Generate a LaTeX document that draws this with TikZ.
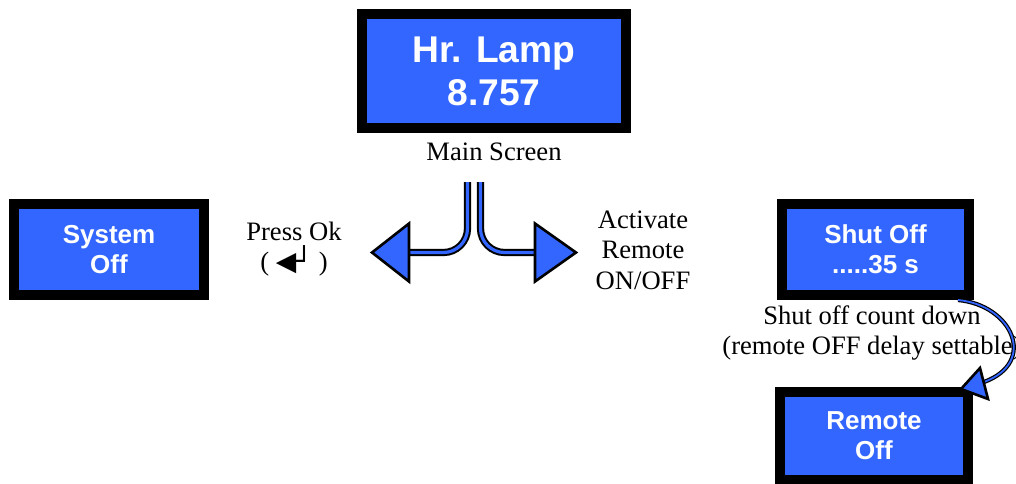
\documentclass[tikz,border=0pt]{standalone}
\usepackage{fontspec}
\setmainfont{Liberation Serif}
\setsansfont{Liberation Sans}
\newfontfamily\symfont{DejaVu Sans}
\definecolor{scrblue}{HTML}{3366FF}

\begin{document}
\begin{tikzpicture}[x=0.5pt,y=-0.5pt,
  screen/.style={draw=black, line width=5pt, fill=scrblue, text=white, align=center, inner sep=0pt,
    font=\sffamily\bfseries\fontsize{13}{15}\selectfont},
  caption/.style={font=\fontsize{13.3}{15.2}\selectfont, align=center, inner sep=0pt},
  shaft/.style={draw=black, double=scrblue, double distance=1.6pt, line width=1pt},
  thinshaft/.style={draw=black, double=scrblue, double distance=0.9pt, line width=0.6pt},
  head/.style={draw=black, fill=scrblue, line width=1.3pt, line join=miter}]
\useasboundingbox (0,0) rectangle (1016,483);

% screens
\node [screen, minimum width=132pt, minimum height=57pt,
  font=\sffamily\bfseries\fontsize{18.6}{21.5}\selectfont] (main) at (494,71) {Hr. Lamp\\8.757};
\node [screen, minimum width=95pt, minimum height=45.5pt] (sysoff) at (109,249.5) {System\\Off};
\node [screen, minimum width=93.5pt, minimum height=45.5pt] (shutoff) at (875.5,249.5) {Shut Off\\.....35 s};
\node [screen, minimum width=94pt, minimum height=44pt] (remoff) at (874,436) {Remote\\Off};

% captions
\node [caption] (mainlbl) at (494,152) {Main Screen};
\node [caption] (pressok) at (294,249) {Press Ok\\( {\symfont ◀┘} )};
\node [caption] (activate) at (643,250) {Activate\\Remote\\ON/OFF};
\node [caption] (countdown) at (872,333) {Shut off count down\\(remote OFF delay settable)};

% split arrows
\coordinate (splitl) at (467.5,182);
\coordinate (splitr) at (480.5,182);
\coordinate (headl) at (409,252.5);
\coordinate (headr) at (535,252.5);
\draw [shaft, rounded corners=12pt] (splitl) |- (headl);
\draw [shaft, rounded corners=12pt] (splitr) |- (headr);
\draw [head] (headl) ++(-37,0) -- ++(37,-29) -- ++(0,58) -- cycle;
\draw [head] (headr) ++(41,0) -- ++(-41,-29) -- ++(0,58) -- cycle;

% count down arrow
\coordinate (cdstart) at (958,300);
\coordinate (cdend) at (984,382);
\draw [thinshaft] (cdstart) .. controls (1012,305) and (1038,362) .. (cdend);
\draw [head] (961,389) -- (980,368) -- (988,399) -- cycle;
\end{tikzpicture}
\end{document}
